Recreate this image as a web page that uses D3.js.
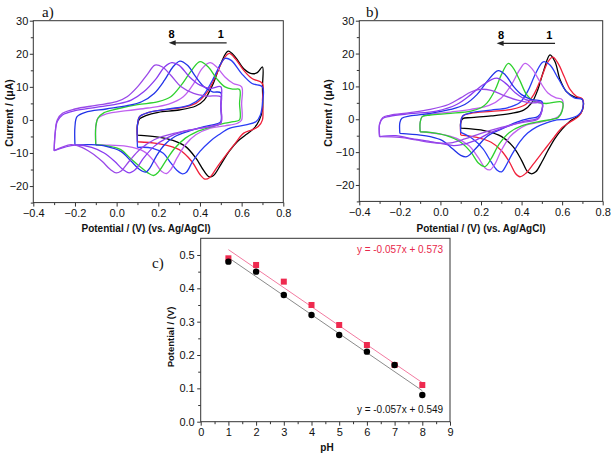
<!DOCTYPE html>
<html>
<head>
<meta charset="utf-8">
<script src="https://cdn.jsdelivr.net/npm/d3@7/dist/d3.min.js"></script>
<style>
body { margin: 0; background: #fff; }
text { font-family: "Liberation Sans", Arial, sans-serif; }
</style>
</head>
<body>
<script>
// ---- data: cyclic voltammograms, [E (V), I (uA)], pH 1 .. 8 ----
var cvA = [
  // pH 1
  [[0.1,-4.6],[0.1,-1.5],[0.11,0.3],[0.14,1.3],[0.2,2.3],[0.3,3.0],[0.38,4.2],[0.42,6],[0.46,10.5],[0.5,17],[0.535,20.8],[0.57,19],[0.61,15.5],[0.648,14],[0.675,14.3],[0.7,16],
   [0.7,10],[0.7,3],[0.685,0],[0.66,-2.5],[0.62,-4.5],[0.58,-6.5],[0.54,-9.5],[0.5,-13.5],[0.465,-16.8],[0.445,-17.2],[0.42,-15.5],[0.38,-11.5],[0.33,-8],[0.27,-6.2],[0.2,-5.2],[0.1,-4.6]],
  // pH 2
  [[0.1,-6.6],[0.1,-1.5],[0.11,1],[0.15,2.2],[0.22,3],[0.3,3.6],[0.38,5],[0.43,8],[0.47,12.5],[0.51,18],[0.54,20.1],[0.57,18.5],[0.61,15],[0.65,12.5],[0.7,11],
   [0.7,6],[0.7,0],[0.68,-2],[0.65,-3],[0.61,-4],[0.57,-7],[0.52,-11],[0.48,-14.5],[0.445,-17.5],[0.424,-17.9],[0.4,-16.5],[0.36,-12.5],[0.3,-9],[0.2,-7.2],[0.1,-6.6]],
  // pH 3
  [[0.1,-8.3],[0.1,-1.5],[0.11,1],[0.15,2.2],[0.25,3.3],[0.35,4.5],[0.41,7],[0.46,12],[0.5,17],[0.52,18.6],[0.55,18],[0.6,14],[0.65,11],[0.7,10],
   [0.7,5],[0.69,1.5],[0.67,-0.5],[0.62,-1.5],[0.544,-2.5],[0.49,-4.5],[0.448,-6.5],[0.4,-9.5],[0.365,-12.5],[0.335,-15.8],[0.315,-16.3],[0.29,-15.3],[0.26,-13],[0.224,-10.1],[0.17,-8.5],[0.1,-8.3]],
  // pH 4
  [[-0.1,-7.6],[-0.1,-2],[-0.09,0.5],[-0.05,1.8],[0.05,2.8],[0.15,3.6],[0.25,4.8],[0.32,7],[0.37,11],[0.41,15.5],[0.448,17.3],[0.48,16],[0.52,13],[0.56,11],[0.6,10],
   [0.6,5],[0.6,0],[0.58,-1],[0.52,-1.8],[0.45,-2.5],[0.38,-4.5],[0.33,-7.5],[0.29,-11.5],[0.26,-15],[0.24,-16.2],[0.215,-15.5],[0.18,-12.5],[0.13,-9.5],[0.05,-8],[-0.05,-7.6],[-0.1,-7.6]],
  // pH 5
  [[-0.1,-7.5],[-0.1,-2],[-0.09,0.5],[-0.06,2.2],[0,3.3],[0.1,4.6],[0.2,5.5],[0.26,7],[0.31,10.5],[0.36,15],[0.4,17.6],[0.44,16],[0.48,12.5],[0.52,10],[0.56,9.3],[0.59,9.2],
   [0.59,5],[0.59,0],[0.56,-0.5],[0.52,-1],[0.45,-2.2],[0.384,-3.6],[0.33,-5.5],[0.28,-8.5],[0.24,-12],[0.2,-15.8],[0.178,-16.8],[0.15,-16],[0.11,-14],[0.064,-11.5],[0.02,-9],[-0.05,-7.8],[-0.1,-7.5]],
  // pH 6
  [[-0.2,-7.6],[-0.2,-2],[-0.19,1],[-0.15,2.3],[-0.05,3.3],[0.05,4.3],[0.12,5.5],[0.18,8],[0.23,12],[0.27,16],[0.304,17.8],[0.34,16.5],[0.38,13],[0.42,10],[0.46,8.5],[0.5,8.2],
   [0.5,4],[0.5,-0.5],[0.48,-1.2],[0.42,-2],[0.35,-3.3],[0.28,-5],[0.23,-7.5],[0.19,-11],[0.16,-14.5],[0.14,-15.8],[0.11,-15],[0.07,-12.5],[0.02,-9.5],[-0.05,-8],[-0.12,-7.5],[-0.2,-7.6]],
  // pH 7
  [[-0.3,-9.3],[-0.295,-4],[-0.285,-0.5],[-0.26,1.5],[-0.2,2.8],[-0.1,3.8],[0,4.8],[0.07,6],[0.13,8.5],[0.19,12.5],[0.23,16],[0.265,17.3],[0.3,16.5],[0.35,13],[0.4,10.5],[0.45,9.5],[0.5,10],
   [0.5,5],[0.5,-1],[0.47,-1.8],[0.4,-2.5],[0.32,-3.5],[0.24,-5.5],[0.18,-8],[0.13,-11.5],[0.09,-15],[0.06,-16],[0.03,-15],[-0.01,-12.5],[-0.06,-10],[-0.12,-8.3],[-0.2,-7.6],[-0.3,-9.3]],
  // pH 8
  [[-0.3,-9.3],[-0.295,-4],[-0.285,0],[-0.26,2],[-0.2,3.3],[-0.1,4.4],[0,5.5],[0.05,7],[0.1,10],[0.15,14],[0.184,16.6],[0.22,16],[0.26,13.5],[0.31,10],[0.37,8],[0.43,7.2],[0.5,7],
   [0.5,4],[0.5,-1],[0.46,-1.8],[0.38,-2.8],[0.28,-4],[0.18,-6],[0.11,-9],[0.06,-12.5],[0.02,-15.5],[-0.002,-16],[-0.03,-15],[-0.07,-12.5],[-0.12,-10],[-0.18,-8],[-0.22,-7.5],[-0.3,-9.3]]
];

var cvB = [
  // pH 1
  [[0.1,-2.7],[0.1,-1],[0.11,0.2],[0.15,0.5],[0.25,1],[0.35,1.8],[0.41,2.8],[0.45,5],[0.48,9],[0.51,15],[0.54,19.6],[0.565,17.5],[0.59,12],[0.62,8.5],[0.66,6.8],[0.7,6],
   [0.7,2.8],[0.68,1],[0.64,-0.5],[0.6,-3],[0.565,-5.8],[0.53,-9.5],[0.5,-13],[0.47,-16],[0.45,-16.6],[0.43,-16],[0.4,-12.5],[0.36,-8.5],[0.3,-5.2],[0.22,-3.5],[0.1,-2.7]],
  // pH 2
  [[0.1,-4.8],[0.1,-1],[0.11,1],[0.15,1.8],[0.25,2.4],[0.35,3],[0.42,4.5],[0.46,7.5],[0.5,13],[0.53,17.5],[0.554,18.9],[0.58,17],[0.61,13],[0.64,9],[0.67,7],[0.7,6.2],
   [0.7,2.8],[0.68,0.8],[0.64,-0.8],[0.6,-2.5],[0.56,-5.5],[0.51,-9.5],[0.46,-13.5],[0.42,-16.5],[0.392,-17.5],[0.37,-16.5],[0.34,-13],[0.3,-9.5],[0.25,-7],[0.18,-5.5],[0.1,-4.8]],
  // pH 3
  [[0.1,-4],[0.1,-1],[0.11,1],[0.15,2],[0.25,2.8],[0.33,3.5],[0.39,5],[0.43,8.5],[0.47,14],[0.507,17.5],[0.54,16.5],[0.58,12.5],[0.62,8.5],[0.66,6.5],[0.7,6],
   [0.7,3],[0.68,1.3],[0.62,0],[0.573,-0.2],[0.52,-1.2],[0.475,-2.3],[0.43,-4.2],[0.392,-6.8],[0.35,-11],[0.32,-14.5],[0.302,-16],[0.28,-15.5],[0.25,-13],[0.21,-9],[0.16,-6],[0.1,-4]],
  // pH 4
  [[-0.1,-3.8],[-0.1,-1],[-0.09,0.8],[-0.05,1.5],[0.05,2.2],[0.15,3],[0.24,4.2],[0.3,6.5],[0.35,10.5],[0.39,15],[0.417,17],[0.45,15.5],[0.49,11.5],[0.53,8],[0.57,6.5],[0.6,6],
   [0.6,2.8],[0.58,0.8],[0.54,-0.2],[0.48,-1],[0.425,-1.7],[0.38,-3.3],[0.343,-5.3],[0.3,-9.5],[0.27,-13.5],[0.244,-15.4],[0.22,-14.8],[0.19,-12],[0.14,-8],[0.08,-5.8],[0,-4.5],[-0.1,-3.8]],
  // pH 5
  [[-0.1,-3.8],[-0.1,-1],[-0.09,0.8],[-0.05,1.3],[0.05,1.8],[0.15,2.5],[0.2,3.5],[0.23,5],[0.27,9],[0.3,13.5],[0.335,17],[0.36,15.5],[0.39,12],[0.425,7.5],[0.46,5.5],[0.52,4.8],[0.6,5.2],
   [0.6,2.5],[0.58,0.5],[0.55,0],[0.48,-0.8],[0.4,-2],[0.34,-4],[0.29,-7.5],[0.25,-12],[0.22,-14.4],[0.19,-13.5],[0.15,-10],[0.1,-7],[0.03,-5],[-0.05,-4],[-0.1,-3.8]],
  // pH 6
  [[-0.2,-4.3],[-0.2,-1],[-0.19,0.3],[-0.15,1],[-0.05,1.8],[0.05,3],[0.12,4.5],[0.18,7.5],[0.23,11.5],[0.285,14.8],[0.32,13.5],[0.36,10],[0.4,7.5],[0.45,6],[0.5,5.4],
   [0.5,2.8],[0.48,0.8],[0.442,0.3],[0.38,-0.8],[0.3,-3],[0.228,-5.3],[0.18,-8.5],[0.13,-11.4],[0.1,-11],[0.06,-9],[0.01,-6.5],[-0.05,-5.3],[-0.1,-4.8],[-0.2,-4.3]],
  // pH 7
  [[-0.3,-5.3],[-0.3,-1.5],[-0.285,0.2],[-0.25,0.9],[-0.15,1.7],[-0.02,2.5],[0.08,4.5],[0.15,7.5],[0.21,10.5],[0.277,12.5],[0.32,11],[0.37,8],[0.42,6],[0.5,5],
   [0.5,2.5],[0.48,0.3],[0.42,-0.5],[0.34,-2],[0.25,-4],[0.17,-6.5],[0.1,-7.8],[0.063,-8],[0.02,-7.6],[-0.05,-6.8],[-0.15,-5.8],[-0.22,-5],[-0.3,-5.3]],
  // pH 8
  [[-0.3,-5.3],[-0.3,-1.5],[-0.285,0.5],[-0.25,1.2],[-0.15,2],[-0.05,3],[0.04,4.5],[0.1,6.5],[0.15,8.3],[0.195,9.1],[0.25,8.8],[0.31,7.3],[0.38,5.8],[0.44,5],[0.5,4.8],
   [0.5,2.5],[0.48,0],[0.4,-1],[0.3,-2.5],[0.2,-4.3],[0.12,-6],[0.05,-7.2],[0.006,-7.3],[-0.05,-7],[-0.12,-6.3],[-0.2,-5.5],[-0.3,-5.3]]
];

var curveColors = ["#000000", "#f0203a", "#2a3cf5", "#c060f0", "#2ed12e", "#2233e8", "#8a3cf0", "#9a48e8"];

// panel c
var pH = [1, 2, 3, 4, 5, 6, 7, 8];
var potRed = [0.49, 0.47, 0.42, 0.35, 0.29, 0.23, 0.17, 0.11];
var potBlack = [0.48, 0.45, 0.38, 0.32, 0.26, 0.21, 0.17, 0.08];
var fitRed = {slope: -0.057, intercept: 0.573, label: "y = -0.057x + 0.573"};
var fitBlack = {slope: -0.057, intercept: 0.549, label: "y = -0.057x + 0.549"};

// ticks
var cvXTicks = [-0.4, -0.2, 0, 0.2, 0.4, 0.6, 0.8];
var cvXMinor = [-0.3, -0.1, 0.1, 0.3, 0.5, 0.7];
var cvYTicks = [-20, -10, 0, 10, 20, 30];
var cvYMinor = [-25, -15, -5, 5, 15, 25];
var phXTicks = [0, 1, 2, 3, 4, 5, 6, 7, 8, 9];
var phXMinor = [0.5, 1.5, 2.5, 3.5, 4.5, 5.5, 6.5, 7.5, 8.5];
var phYTicks = [0, 0.1, 0.2, 0.3, 0.4, 0.5];
var phYMinor = [0.05, 0.15, 0.25, 0.35, 0.45];

var svg = d3.select("body").append("svg").attr("width", 614).attr("height", 453);

function makePanel(box, xDom, yDom, xT, xM, yT, yM, xFmt, yFmt, xPad, yPad) {
    var x = d3.scaleLinear().domain(xDom).range([box.left, box.right]);
    var y = d3.scaleLinear().domain(yDom).range([box.bottom, box.top]);
    var g = svg.append("g");

    g.append("g").attr("transform", "translate(0," + box.bottom + ")")
        .call(d3.axisBottom(x).tickValues(xM).tickSize(2.5).tickFormat(""))
        .call(s => s.select(".domain").remove());
    g.append("g").attr("transform", "translate(" + box.left + ",0)")
        .call(d3.axisLeft(y).tickValues(yM).tickSize(2.5).tickFormat(""))
        .call(s => s.select(".domain").remove());

    var ax = g.append("g").attr("transform", "translate(0," + box.bottom + ")")
        .call(d3.axisBottom(x).tickValues(xT).tickSize(4).tickPadding(xPad).tickFormat(xFmt));
    var ay = g.append("g").attr("transform", "translate(" + box.left + ",0)")
        .call(d3.axisLeft(y).tickValues(yT).tickSize(3.5).tickPadding(yPad).tickFormat(yFmt));
    [ax, ay].forEach(a => {
        a.select(".domain").remove();
        a.selectAll("text").attr("font-size", 11).attr("font-family", "Liberation Sans, Arial, sans-serif").attr("fill", "#111");
    });
    g.selectAll(".tick line").attr("stroke", "#333");

    g.append("rect")
        .attr("x", box.left).attr("y", box.top)
        .attr("width", box.right - box.left).attr("height", box.bottom - box.top)
        .attr("fill", "none").attr("stroke", "#333").attr("stroke-width", 1);
    return {x: x, y: y, g: g};
}

var cvFmtX = d3.format(".1f");
var cvFmtY = d3.format("d");

function drawCV(p, curves) {
    var line = d3.line()
        .x(d => p.x(d[0])).y(d => p.y(d[1]))
        .curve(d3.curveCatmullRom.alpha(0.5));
    p.g.append("g").selectAll("path")
        .data(curves)
        .enter()
        .append("path")
        .attr("d", line)
        .attr("fill", "none")
        .attr("stroke", (d, i) => curveColors[i])
        .attr("stroke-width", 1.3)
        .attr("stroke-linejoin", "round");
}

function drawArrow(p, e0, e1, cur, lab8, lab1) {
    var y0 = p.y(cur);
    p.g.append("line")
        .attr("x1", p.x(e1)).attr("x2", p.x(e0) + 5)
        .attr("y1", y0).attr("y2", y0)
        .attr("stroke", "#222").attr("stroke-width", 1.2);
    var tx = p.x(e0);
    p.g.append("path")
        .attr("d", "M" + tx + "," + y0 + "L" + (tx + 7) + "," + (y0 - 2.6) + "L" + (tx + 7) + "," + (y0 + 2.6) + "Z")
        .attr("fill", "#222");
    p.g.append("text").attr("x", p.x(lab8)).attr("y", p.y(cur + 2.6) + 4)
        .attr("text-anchor", "middle").attr("font-size", 11).attr("font-weight", "bold").text("8");
    p.g.append("text").attr("x", p.x(lab1)).attr("y", p.y(cur + 2.6) + 4)
        .attr("text-anchor", "middle").attr("font-size", 11).attr("font-weight", "bold").text("1");
}

// ---- panel a ----
var pa = makePanel({left: 33.3, right: 283.3, top: 20.7, bottom: 202.6},
    [-0.4, 0.8], [-25, 30], cvXTicks, cvXMinor, cvYTicks, cvYMinor, cvFmtX, cvFmtY, 3, 1.5);
drawCV(pa, cvA);
drawArrow(pa, 0.25, 0.528, 23.3, 0.264, 0.5);

// ---- panel b ----
var pb = makePanel({left: 359.3, right: 602.7, top: 20.7, bottom: 201.4},
    [-0.4, 0.8], [-25, 30], cvXTicks, cvXMinor, cvYTicks, cvYMinor, cvFmtX, cvFmtY, 3, 1.5);
drawCV(pb, cvB);
drawArrow(pb, 0.277, 0.565, 23.1, 0.299, 0.537);

// ---- panel c ----
var pc = makePanel({left: 200.7, right: 450, top: 238.3, bottom: 421.7},
    [0, 9], [0, 0.55], phXTicks, phXMinor, phYTicks, phYMinor, d3.format("d"), d3.format(".1f"), 3, 2.5);

[[fitBlack, "#8a8a8a"], [fitRed, "#f27aa0"]].forEach(f => {
    var fit = f[0];
    pc.g.append("line")
        .attr("x1", pc.x(pH[0])).attr("y1", pc.y(fit.slope * pH[0] + fit.intercept))
        .attr("x2", pc.x(pH[pH.length - 1])).attr("y2", pc.y(fit.slope * pH[pH.length - 1] + fit.intercept))
        .attr("stroke", f[1]).attr("stroke-width", 1);
});

pc.g.append("g").selectAll("rect")
    .data(pH)
    .enter()
    .append("rect")
    .attr("x", (d, i) => pc.x(d) - 3).attr("y", (d, i) => pc.y(potRed[i]) - 3)
    .attr("width", 6).attr("height", 6)
    .attr("fill", "#ee2a4f");

pc.g.append("g").selectAll("circle")
    .data(pH)
    .enter()
    .append("circle")
    .attr("cx", d => pc.x(d)).attr("cy", (d, i) => pc.y(potBlack[i]))
    .attr("r", 3.2)
    .attr("fill", "#000");

pc.g.append("text").attr("x", pc.x(8.75)).attr("y", pc.y(0.515) + 3.5)
    .attr("text-anchor", "end").attr("font-size", 10).attr("fill", "#e8284a").text(fitRed.label);
pc.g.append("text").attr("x", pc.x(8.75)).attr("y", pc.y(0.038) + 3.5)
    .attr("text-anchor", "end").attr("font-size", 10).attr("fill", "#111").text(fitBlack.label);

// ---- titles and panel letters ----
function title(x, y, txt, rot, size) {
    svg.append("text")
        .attr("transform", "translate(" + x + "," + y + ")" + (rot ? " rotate(-90)" : ""))
        .attr("text-anchor", "middle")
        .attr("font-size", size).attr("font-weight", "bold").attr("fill", "#111")
        .text(txt);
}
title(146, 231.5, "Potential / (V) (vs. Ag/AgCl)", false, 10);
title(481, 231.5, "Potential / (V) (vs. Ag/AgCl)", false, 10);
title(12.5, 113, "Current / (\u03bcA)", true, 10.5);
title(332, 113, "Current / (\u03bcA)", true, 10.5);
title(173.5, 337, "Potential / (V)", true, 9.5);
title(327, 450.5, "pH", false, 10);

[["a)", 42, 17], ["b)", 366, 17], ["c)", 152, 268]].forEach(l => {
    svg.append("text").attr("x", l[1]).attr("y", l[2])
        .attr("font-family", "Liberation Serif, Times New Roman, serif")
        .style("font-family", "'Liberation Serif', serif")
        .attr("font-size", 15).attr("fill", "#111").text(l[0]);
});
</script>
</body>
</html>
